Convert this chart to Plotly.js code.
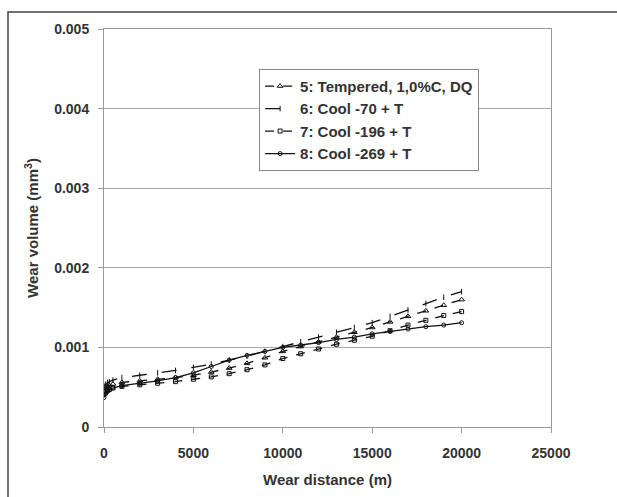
<!DOCTYPE html>
<html>
<head>
<meta charset="utf-8">
<script src="https://cdn.plot.ly/plotly-3.0.1.min.js"></script>
<style>html,body{margin:0;padding:0;background:#fff;}#chart{width:617px;height:497px;}</style>
</head>
<body>
<div id="chart"></div>
<script>
const distance = [0, 100, 200, 300, 500, 1000, 2000, 3000, 4000, 5000, 6000, 7000, 8000, 9000, 10000, 11000, 12000, 13000, 14000, 15000, 16000, 17000, 18000, 19000, 20000];
const seriesNames = ["5: Tempered, 1,0%C, DQ", "6: Cool -70 + T", "7: Cool -196 + T", "8: Cool -269 + T"];
const s5 = [0.00047, 0.00049, 0.00051, 0.00052, 0.00054, 0.00056, 0.00058, 0.00060, 0.00062, 0.00065, 0.00069, 0.00074, 0.00080, 0.00087, 0.00095, 0.00101, 0.00107, 0.00113, 0.00119, 0.00125, 0.00132, 0.00139, 0.00146, 0.00153, 0.00160];
const s6 = [0.00052, 0.00054, 0.00056, 0.00057, 0.00059, 0.00062, 0.00065, 0.00068, 0.00071, 0.00075, 0.00079, 0.00084, 0.00089, 0.00095, 0.00101, 0.00107, 0.00113, 0.00119, 0.00125, 0.00131, 0.00139, 0.00147, 0.00155, 0.00163, 0.00170];
const s7 = [0.00041, 0.00044, 0.00046, 0.00047, 0.00049, 0.00051, 0.00053, 0.00055, 0.00057, 0.00060, 0.00063, 0.00067, 0.00072, 0.00078, 0.00086, 0.00092, 0.00098, 0.00104, 0.00109, 0.00114, 0.00121, 0.00128, 0.00134, 0.00140, 0.00145];
const s8 = [0.00037, 0.00042, 0.00045, 0.00047, 0.00049, 0.00052, 0.00055, 0.00058, 0.00062, 0.00068, 0.00076, 0.00084, 0.00090, 0.00095, 0.00100, 0.00103, 0.00106, 0.00110, 0.00113, 0.00117, 0.00120, 0.00123, 0.00126, 0.00128, 0.00131];
const yTicks = [0, 0.001, 0.002, 0.003, 0.004, 0.005];
const yTickText = ["0", "0.001", "0.002", "0.003", "0.004", "0.005"];
const xTicks = [0, 5000, 10000, 15000, 20000, 25000];

const styles = [
  {dash: "dash", symbol: "triangle-up-open", size: 5},
  {dash: "longdash", symbol: "line-ns-open", size: 4},
  {dash: "dash", symbol: "square-open", size: 4},
  {dash: "solid", symbol: "circle-open", size: 4}
];
const allY = [s5, s6, s7, s8];
const traces = allY.map((ys, i) => ({
  x: distance, y: ys, name: seriesNames[i], type: "scatter", mode: "lines+markers",
  line: {color: "#111", width: 1.3, dash: styles[i].dash},
  marker: {symbol: styles[i].symbol, size: styles[i].size, color: "#111", line: {color: "#111", width: 1}}
}));

const fam = "Liberation Sans, Arial, sans-serif";
const tickFont = {family: fam, size: 14, color: "#333", weight: "bold"};
const titleFont = {family: fam, size: 15, color: "#333", weight: "bold"};
const layout = {
  width: 617, height: 497,
  margin: {l: 104, r: 66, t: 29, b: 70},
  paper_bgcolor: "#fff", plot_bgcolor: "#fff",
  font: {family: fam, size: 12, color: "#333"},
  showlegend: true,
  legend: {
    x: 0.347, y: 0.9, xanchor: "left", yanchor: "top",
    bgcolor: "#fff", bordercolor: "#888", borderwidth: 1,
    font: {family: fam, size: 15, color: "#333", weight: "bold"},
    tracegroupgap: 0
  },
  xaxis: {
    range: [0, 25000], tickvals: xTicks, ticktext: xTicks.map(String),
    showgrid: false, zeroline: false,
    showline: true, linecolor: "#999", linewidth: 1, mirror: true,
    ticks: "outside", ticklen: 5, tickcolor: "#999",
    tickfont: tickFont, ticklabelstandoff: 8,
    title: {text: "Wear distance (m)", font: titleFont, standoff: 14}
  },
  yaxis: {
    range: [0, 0.005], tickvals: yTicks, ticktext: yTickText,
    showgrid: true, gridcolor: "#aaa", gridwidth: 1, zeroline: false,
    showline: true, linecolor: "#999", linewidth: 1, mirror: true,
    ticks: "outside", ticklen: 5, tickcolor: "#999",
    tickfont: tickFont, ticklabelstandoff: 6,
    title: {text: "Wear volume (mm<sup>3</sup>)", font: titleFont, standoff: 11}
  },
  shapes: [{
    type: "rect", xref: "paper", yref: "paper",
    x0: (8 - 104) / 447, x1: 1.2, y0: -0.3, y1: (427 - 12) / 398,
    line: {color: "#444", width: 1.5}, fillcolor: "rgba(0,0,0,0)", layer: "below"
  }]
};
Plotly.newPlot("chart", traces, layout, {displayModeBar: false, staticPlot: true});
</script>
</body>
</html>
